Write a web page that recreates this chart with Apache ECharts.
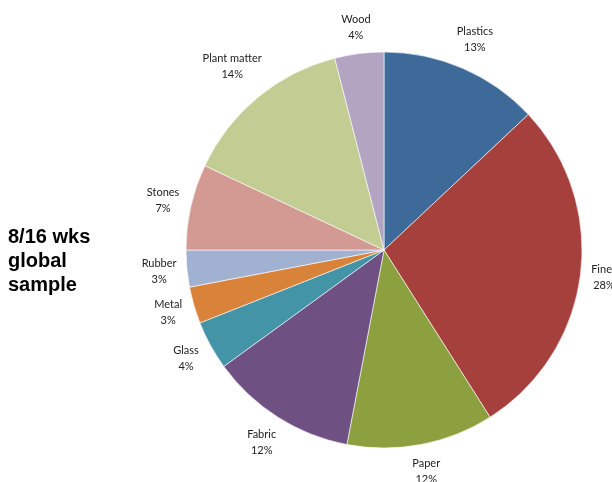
<!DOCTYPE html>
<html>
<head>
<meta charset="utf-8">
<script src="https://cdn.jsdelivr.net/npm/echarts@6/dist/echarts.min.js"></script>
<style>
  html, body { margin: 0; padding: 0; background: #fff; }
  #chart { width: 612px; height: 482px; }
</style>
</head>
<body>
<div id="chart"></div>
<script>
// Composition of the 8/16 week global sample (percent by category)
const categories = ['Plastics', 'Fines', 'Paper', 'Fabric', 'Glass', 'Metal', 'Rubber', 'Stones', 'Plant matter', 'Wood'];
const shares = [13, 28, 12, 12, 4, 3, 3, 7, 14, 4];
const sliceColors = ['#3E6A9A', '#A5403D', '#8DA03F', '#6E5083', '#4394A7', '#D9823A', '#A0B1D1', '#D39A94', '#C2CC93', '#B3A4C2'];

const CX = 384, CY = 250, R = 198;
const LABEL_GAP_RADIUS = 207;

const total = shares.reduce((a, b) => a + b, 0);
// mid-angle of each slice, clockwise from 12 o'clock
const midAngles = [];
let acc = 0;
shares.forEach(v => {
  midAngles.push((acc + v / 2) / total * 2 * Math.PI);
  acc += v;
});

const chart = echarts.init(document.getElementById('chart'), null, { renderer: 'canvas' });
chart.setOption({
  animation: false,
  graphic: [{
    type: 'text',
    left: 8,
    top: 225,
    style: {
      text: '8/16 wks\nglobal\nsample',
      font: 'bold 20px "Liberation Sans", Arial, sans-serif',
      lineHeight: 24,
      fill: '#000'
    }
  }],
  series: [{
    type: 'pie',
    center: [CX, CY],
    radius: [0, R],
    startAngle: 90,
    clockwise: true,
    avoidLabelOverlap: false,
    itemStyle: { borderColor: '#ffffff', borderWidth: 0.6 },
    label: {
      show: true,
      position: 'outside',
      formatter: p => p.name + '\n' + p.value + '%',
      fontFamily: 'Lato, "Open Sans", sans-serif',
      fontSize: 11,
      lineHeight: 16,
      color: '#222',
      align: 'center'
    },
    labelLine: { show: false, length: 0, length2: 0 },
    labelLayout: function (params) {
      const a = midAngles[params.dataIndex];
      const ux = Math.sin(a), uy = -Math.cos(a);
      const w = params.labelRect.width / 2, h = params.labelRect.height / 2;
      const d = LABEL_GAP_RADIUS + Math.abs(ux) * w + Math.abs(uy) * h;
      return {
        x: CX + ux * d,
        y: CY + uy * d,
        align: 'center',
        verticalAlign: 'middle'
      };
    },
    data: categories.map((name, i) => ({
      name: name,
      value: shares[i],
      itemStyle: { color: sliceColors[i] }
    }))
  }]
});
</script>
</body>
</html>
